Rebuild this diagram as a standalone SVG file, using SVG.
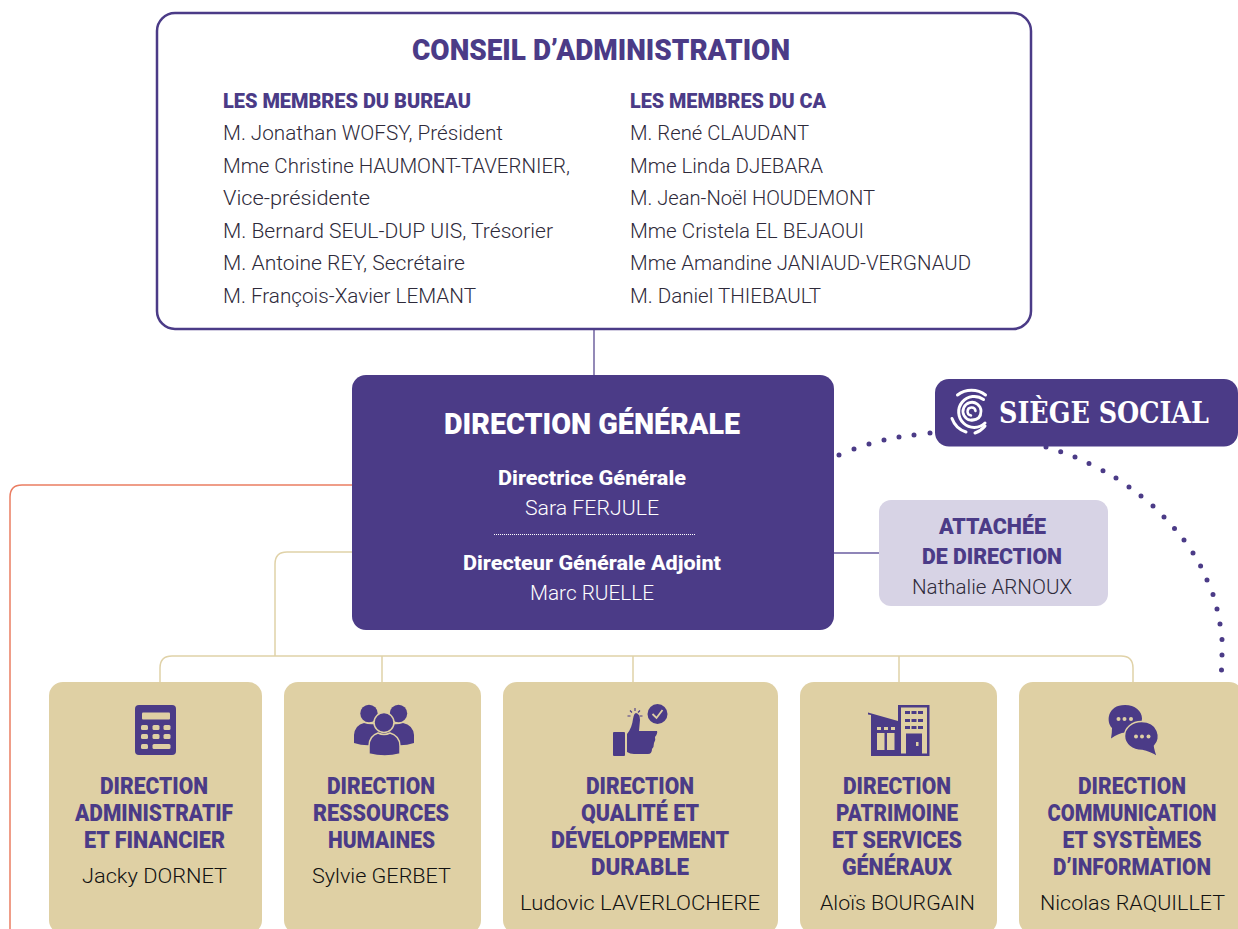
<svg xmlns="http://www.w3.org/2000/svg" width="1238" height="929" viewBox="0 0 1238 929">
<style>
text{font-family:"Roboto","Liberation Sans",sans-serif}
.h{font-weight:900;fill:#4b3b87}
.c{text-anchor:middle}
.b{font-size:20px;fill:#2e2a3a;font-weight:300}
.w{fill:#fff}
.t{font-size:23px}
.n{font-size:21px;fill:#111;text-anchor:middle;font-weight:300}
.card{fill:#dfd0a4}
.ic{fill:#4b3b87}
.cut{fill:#dfd0a4}
.bl{fill:none;stroke:#e0d2a8;stroke-width:1.500}
</style>
<rect width="1238" height="929" fill="#fff"/>
<g id="connectors" fill="none">
<path d="M594 329V375" stroke="#4b3b87" stroke-width="1.200"/>
<path d="M834 553H879" stroke="#6a5ca0" stroke-width="1.500"/>
<path d="M352 485H22Q10 485 10 497V929" stroke="#ea7d62" stroke-width="1.500"/>
<path class="bl" d="M352 552H287Q275 552 275 564V656"/>
<path class="bl" d="M160 682V668Q160 656 172 656H1121Q1133 656 1133 668V682M382 656V682M633 656V682M899 656V682"/>
<path stroke="#4b3b87" stroke-width="5" stroke-linecap="round" d="M839 455h0M854 449h0M869 444h0M884 440h0M899 437h0M914 435h0M930 433h0M1046 447h0M1060.700 451.700h0M1075 457h0M1089 463.500h0M1103 470.700h0M1116 478h0M1129 487h0M1141 496h0M1153 506h0M1164 517h0M1174.500 528.500h0M1184 540h0M1193 553h0M1200.600 566h0M1207 580h0M1213 594.500h0M1217 609h0M1220 624h0M1222 639.500h0M1222 655h0M1221.500 670h0"/>
</g>
<g id="conseil">
<rect x="157" y="13" width="874" height="316" rx="18" fill="#fff" stroke="#4b3b87" stroke-width="2.500"/>
<text class="h c" x="601" y="60" font-size="29" textLength="378" lengthAdjust="spacingAndGlyphs">CONSEIL D’ADMINISTRATION</text>
<text class="h" x="223" y="107.500" font-size="20" textLength="248" lengthAdjust="spacingAndGlyphs">LES MEMBRES DU BUREAU</text>
<text class="b" x="223" y="140" textLength="280" lengthAdjust="spacingAndGlyphs">M. Jonathan WOFSY, Président</text>
<text class="b" x="223" y="173" textLength="347" lengthAdjust="spacingAndGlyphs">Mme Christine HAUMONT-TAVERNIER,</text>
<text class="b" x="223" y="205" textLength="147" lengthAdjust="spacingAndGlyphs">Vice-présidente</text>
<text class="b" x="223" y="238" textLength="330" lengthAdjust="spacingAndGlyphs">M. Bernard SEUL-DUP UIS, Trésorier</text>
<text class="b" x="223" y="270" textLength="242" lengthAdjust="spacingAndGlyphs">M. Antoine REY, Secrétaire</text>
<text class="b" x="223" y="303" textLength="253" lengthAdjust="spacingAndGlyphs">M. François-Xavier LEMANT</text>
<text class="h" x="630" y="107.500" font-size="20" textLength="196" lengthAdjust="spacingAndGlyphs">LES MEMBRES DU CA</text>
<text class="b" x="630" y="140" textLength="179" lengthAdjust="spacingAndGlyphs">M. René CLAUDANT</text>
<text class="b" x="630" y="173" textLength="193" lengthAdjust="spacingAndGlyphs">Mme Linda DJEBARA</text>
<text class="b" x="630" y="205" textLength="245" lengthAdjust="spacingAndGlyphs">M. Jean-Noël HOUDEMONT</text>
<text class="b" x="630" y="238" textLength="234" lengthAdjust="spacingAndGlyphs">Mme Cristela EL BEJAOUI</text>
<text class="b" x="630" y="270" textLength="341" lengthAdjust="spacingAndGlyphs">Mme Amandine JANIAUD-VERGNAUD</text>
<text class="b" x="630" y="303" textLength="191" lengthAdjust="spacingAndGlyphs">M. Daniel THIEBAULT</text>
</g>
<g id="direction-generale">
<rect x="352" y="375" width="482" height="255" rx="14" fill="#4b3b87"/>
<text class="w c" x="592" y="434" font-size="29" font-weight="900" textLength="296" lengthAdjust="spacingAndGlyphs">DIRECTION GÉNÉRALE</text>
<text class="w c" x="592" y="484.500" font-size="20" font-weight="800" textLength="188" lengthAdjust="spacingAndGlyphs">Directrice Générale</text>
<text class="w c" x="592" y="515" font-size="20" font-weight="300" textLength="134" lengthAdjust="spacingAndGlyphs">Sara FERJULE</text>
<path d="M494 534.500H695" stroke="#fff" stroke-width="1" stroke-dasharray="1 1"/>
<text class="w c" x="592" y="569.500" font-size="20" font-weight="800" textLength="258" lengthAdjust="spacingAndGlyphs">Directeur Générale Adjoint</text>
<text class="w c" x="592" y="600" font-size="20" font-weight="300" textLength="124" lengthAdjust="spacingAndGlyphs">Marc RUELLE</text>
</g>
<g id="siege-social">
<rect x="935" y="379" width="303" height="67.500" rx="14" fill="#4b3b87"/>
<g fill="none" stroke="#fff" stroke-linecap="round" stroke-width="3">
<path d="M957.500 395A23 23 0 0 1 985.500 395"/>
<path d="M952 418.500A22 22 0 0 0 966 432"/>
<path d="M975 433A22 22 0 0 0 985 426"/>
<path d="M983.500 399.500A15.500 15.500 0 1 0 985 423"/>
<path d="M978 418A9 9 0 1 1 981 411Q981 420 972 420" stroke-width="2.800"/>
<path d="M971 415.500A4 4 0 1 1 975.500 411" stroke-width="2.500"/>
</g>
<text x="999" y="423" font-size="29" font-weight="700" fill="#fff" style="font-family:'DejaVu Serif','Liberation Serif',serif" textLength="210" lengthAdjust="spacingAndGlyphs">SIÈGE SOCIAL</text>
</g>
<g id="attachee">
<rect x="879" y="500" width="229" height="106" rx="12" fill="#d7d3e5"/>
<text class="h c" x="992.500" y="534" font-size="22" textLength="107" lengthAdjust="spacingAndGlyphs">ATTACHÉE</text>
<text class="h c" x="992" y="564" font-size="22" textLength="140" lengthAdjust="spacingAndGlyphs">DE DIRECTION</text>
<text class="b c" x="992" y="594" textLength="160" lengthAdjust="spacingAndGlyphs">Nathalie ARNOUX</text>
</g>
<g id="card-daf">
<rect class="card" x="49" y="682" width="213" height="252" rx="14"/>
<rect class="ic" x="135" y="705" width="41" height="50" rx="4"/>
<g class="cut"><rect x="142" y="712.500" width="28" height="7" rx="1"/><rect x="141" y="725" width="7" height="5" rx="1.500"/><rect x="152.500" y="725" width="7" height="5" rx="1.500"/><rect x="163.500" y="725" width="7" height="5" rx="1.500"/><rect x="141" y="734" width="7" height="5" rx="1.500"/><rect x="152.500" y="734" width="7" height="5" rx="1.500"/><rect x="163.500" y="734" width="7" height="5" rx="1.500"/><rect x="141" y="744" width="7" height="5" rx="1.500"/><rect x="152.500" y="744" width="18" height="5" rx="1.500"/></g>
<text class="h c t" x="154" y="794" textLength="108" lengthAdjust="spacingAndGlyphs">DIRECTION</text>
<text class="h c t" x="154" y="821" textLength="158" lengthAdjust="spacingAndGlyphs">ADMINISTRATIF</text>
<text class="h c t" x="154.500" y="848" textLength="141" lengthAdjust="spacingAndGlyphs">ET FINANCIER</text>
<text class="n" x="154.500" y="883" textLength="145" lengthAdjust="spacingAndGlyphs">Jacky DORNET</text>
</g>
<g id="card-drh">
<rect class="card" x="284" y="682" width="197" height="252" rx="14"/>
<circle class="ic" cx="369" cy="713.500" r="8.700"/><circle class="ic" cx="398.500" cy="713.500" r="8.700"/>
<path class="ic" d="M354 743V735Q355 725 364 723Q369 725 376 724L392 724Q398 725 403 723Q413 725 414 735V743Q405 746 395 745L373 745Q363 746 354 743Z"/>
<circle class="ic" cx="384" cy="722.500" r="10" stroke="#dfd0a4" stroke-width="1.500"/>
<path class="ic" stroke="#dfd0a4" stroke-width="1.500" d="M369 754V746Q369 736 378 733Q384 736 390 733Q400 736 400 746V754Q385 758 369 754Z"/>
<text class="h c t" x="381" y="794" textLength="108" lengthAdjust="spacingAndGlyphs">DIRECTION</text>
<text class="h c t" x="381" y="821" textLength="136" lengthAdjust="spacingAndGlyphs">RESSOURCES</text>
<text class="h c t" x="381.500" y="848" textLength="107" lengthAdjust="spacingAndGlyphs">HUMAINES</text>
<text class="n" x="381.500" y="883" textLength="139" lengthAdjust="spacingAndGlyphs">Sylvie GERBET</text>
</g>
<g id="card-qualite">
<rect class="card" x="503" y="682" width="275" height="252" rx="14"/>
<rect class="ic" x="613" y="732" width="12" height="24" rx="1"/>
<path class="ic" d="M627 734Q632 728 633 719Q634 713 636 713Q640 714 640 720L639 731H657Q658 733 655 737Q656 740 654 743Q654 747 652 749Q652 754 648 754H634Q630 754 627 752Z"/>
<circle class="ic" cx="657.500" cy="714" r="10"/>
<path d="M652.500 714L656.500 718L662.500 710" fill="none" stroke="#dfd0a4" stroke-width="1.800"/>
<path d="M635 708V711M630 710.500L632 712.500M640 710.500L638 712.500M627.500 716H630.500M639.500 716H642.500" stroke="#4b3b87" stroke-width="1.100" fill="none"/>
<text class="h c t" x="640" y="794" textLength="108" lengthAdjust="spacingAndGlyphs">DIRECTION</text>
<text class="h c t" x="640" y="821" textLength="118" lengthAdjust="spacingAndGlyphs">QUALITÉ ET</text>
<text class="h c t" x="640" y="848" textLength="178" lengthAdjust="spacingAndGlyphs">DÉVELOPPEMENT</text>
<text class="h c t" x="640" y="875" textLength="98" lengthAdjust="spacingAndGlyphs">DURABLE</text>
<text class="n" x="640" y="910" textLength="240" lengthAdjust="spacingAndGlyphs">Ludovic LAVERLOCHERE</text>
</g>
<g id="card-patrimoine">
<rect class="card" x="800" y="682" width="197" height="252" rx="14"/>
<path class="ic" d="M868 712.500L898 721V756H871V715L868 714.500Z"/>
<path class="ic" fill-rule="evenodd" d="M898 705H929.500V756H898ZM901 707.500V753.500H927V707.500Z"/>
<g class="ic"><rect x="905" y="711" width="5" height="3"/><rect x="911.500" y="711" width="5" height="3"/><rect x="918" y="711" width="5" height="3"/><rect x="905" y="719" width="5" height="3"/><rect x="911.500" y="719" width="5" height="3"/><rect x="918" y="719" width="5" height="3"/><rect x="905" y="726" width="5" height="3"/><rect x="911.500" y="726" width="5" height="3"/><rect x="918" y="726" width="5" height="3"/><rect x="906" y="733.500" width="16" height="21"/></g>
<g class="cut"><rect x="877" y="733" width="7.500" height="17"/><rect x="887" y="733" width="7.500" height="17"/><rect x="877" y="727" width="4" height="3"/><rect x="884" y="727" width="4" height="3"/><rect x="891" y="727" width="4" height="3"/><rect x="916" y="742" width="2.500" height="4"/></g>
<text class="h c t" x="897" y="794" textLength="108" lengthAdjust="spacingAndGlyphs">DIRECTION</text>
<text class="h c t" x="897" y="821" textLength="122" lengthAdjust="spacingAndGlyphs">PATRIMOINE</text>
<text class="h c t" x="897" y="848" textLength="130" lengthAdjust="spacingAndGlyphs">ET SERVICES</text>
<text class="h c t" x="897" y="875" textLength="110" lengthAdjust="spacingAndGlyphs">GÉNÉRAUX</text>
<text class="n" x="897.500" y="910" textLength="155" lengthAdjust="spacingAndGlyphs">Aloïs BOURGAIN</text>
</g>
<g id="card-communication">
<rect class="card" x="1019" y="682" width="224" height="252" rx="14"/>
<path class="ic" d="M1125 705C1135 705 1142 711 1142 718.500C1142 727 1134 732.500 1125 732.500Q1119 733 1111 738.500Q1112 733 1112 728C1106 722 1107 705 1125 705Z"/>
<path class="ic" stroke="#dfd0a4" stroke-width="1.500" d="M1141.500 721.500C1132 721.500 1124.500 728 1124.500 736C1124.500 744 1132 750.500 1142 750.500Q1150 752 1157.500 757Q1155 750 1154.500 746C1162 738 1158.500 721.500 1141.500 721.500Z"/>
<g class="cut"><circle cx="1118.500" cy="719" r="2"/><circle cx="1124.500" cy="719" r="2"/><circle cx="1131" cy="719" r="2"/><circle cx="1136" cy="736.500" r="2"/><circle cx="1142" cy="736.500" r="2"/><circle cx="1148.500" cy="736.500" r="2"/></g>
<text class="h c t" x="1132" y="794" textLength="108" lengthAdjust="spacingAndGlyphs">DIRECTION</text>
<text class="h c t" x="1132" y="821" textLength="169" lengthAdjust="spacingAndGlyphs">COMMUNICATION</text>
<text class="h c t" x="1132" y="848" textLength="139" lengthAdjust="spacingAndGlyphs">ET SYSTÈMES</text>
<text class="h c t" x="1132" y="875" textLength="158" lengthAdjust="spacingAndGlyphs">D’INFORMATION</text>
<text class="n" x="1132.500" y="910" textLength="185" lengthAdjust="spacingAndGlyphs">Nicolas RAQUILLET</text>
</g>
</svg>
